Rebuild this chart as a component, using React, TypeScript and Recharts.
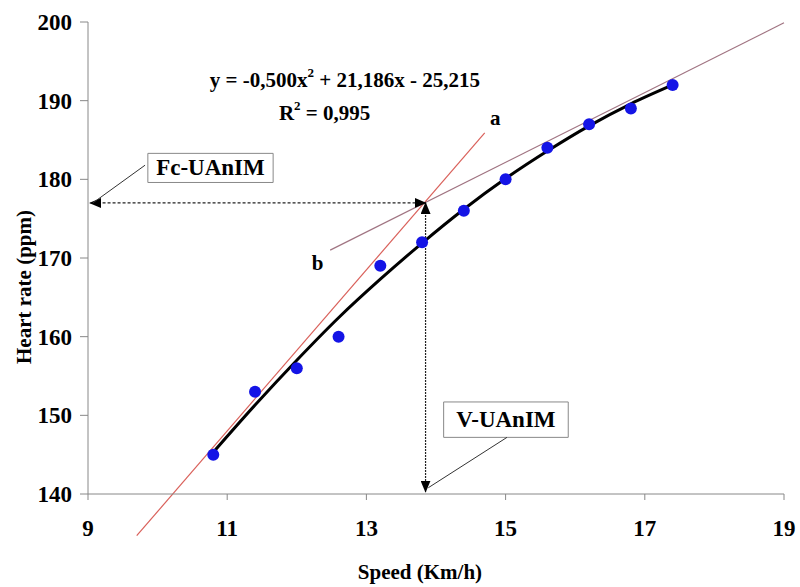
import React from 'react';
import {
  ComposedChart, XAxis, YAxis, Line, Scatter, ReferenceLine, ReferenceDot, ReferenceArea, Label,
} from 'recharts';

// measured points (speed km/h, heart rate ppm)
const speed = [10.8, 11.4, 12.0, 12.6, 13.2, 13.8, 14.4, 15.0, 15.6, 16.2, 16.8, 17.4];
const heartRate = [145, 153, 156, 160, 169, 172, 176, 180, 184, 187, 189, 192];

// polynomial trend line
const fitSpeed = [10.8, 11.4, 12.0, 12.6, 13.2, 13.8, 14.4, 15.0, 15.6, 16.2, 16.8, 17.4];
const fitHeartRate = [145.3, 151.3, 157.0, 162.4, 167.3, 171.9, 176.2, 180.1, 183.6, 186.8, 189.6, 192.0];

// tangent lines a and b
const lineA = [{ x: 9.7, y: 134.7 }, { x: 14.7, y: 185.9 }];
const lineB = [{ x: 12.48, y: 171.0 }, { x: 19.0, y: 199.9 }];

// threshold (intersection of a and b)
const threshold = { x: 13.85, y: 177 };

const xTicks = [9, 11, 13, 15, 17, 19];
const yTicks = [140, 150, 160, 170, 180, 190, 200];

const points = speed.map((x, i) => ({ x, y: heartRate[i] }));
const fit = fitSpeed.map((x, i) => ({ x, y: fitHeartRate[i] }));

const FONT = '"Liberation Serif", "Times New Roman", serif';
const serif = { fontFamily: FONT, fontWeight: 'bold' as const };

const arrowLine = (id: string, dash?: string) => (props: any) => (
  <g>
    <defs>
      <marker id={id} markerUnits="userSpaceOnUse" markerWidth={12} markerHeight={10}
        refX={11} refY={5} orient="auto-start-reverse">
        <path d="M0,0 L12,5 L0,10 z" fill="#000" />
      </marker>
    </defs>
    <line x1={props.x1} y1={props.y1} x2={props.x2} y2={props.y2} stroke="#222" strokeWidth={1.2}
      strokeDasharray={dash} markerStart={`url(#${id})`} markerEnd={`url(#${id})`} />
  </g>
);

const textAt = (txt: React.ReactNode, size = 21) => (props: any) => (
  <text x={props.cx} y={props.cy} textAnchor="middle" dominantBaseline="central"
    style={{ ...serif, fontSize: size }} fill="#000">{txt}</text>
);

const dot = (props: any) => <circle cx={props.cx} cy={props.cy} r={6} fill="#1414e6" />;

const boxLabel = (txt: string) => (props: any) => {
  const vb = props.viewBox;
  return (
    <text x={vb.x + vb.width / 2} y={vb.y + vb.height / 2} textAnchor="middle" dominantBaseline="central"
      style={{ ...serif, fontSize: 23 }} fill="#000">{txt}</text>
  );
};

const tickStyle = { fill: '#000', fontSize: 23, style: { ...serif, fontSize: 23 } };

export default function App() {
  return (
    <div style={{ fontFamily: FONT }}>
      <style>{'body{margin:0;background:#fff} .recharts-text{font-family:"Liberation Serif",serif;font-weight:bold}'}</style>
      <ComposedChart width={800} height={587} margin={{ top: 22, right: 16, bottom: 8, left: 0 }}>
        <XAxis type="number" dataKey="x" domain={[9, 19]} ticks={xTicks} allowDataOverflow
          height={85} tickSize={6} tickMargin={20} tick={tickStyle}
          stroke="#888" tickLine={{ stroke: '#888' }}>
          <Label content={() => (
            <text x={420} y={572} textAnchor="middle" dominantBaseline="central"
              style={{ ...serif, fontSize: 21 }} fill="#000">Speed (Km/h)</text>
          )} />
        </XAxis>
        <YAxis type="number" dataKey="y" domain={[140, 200]} ticks={yTicks} allowDataOverflow
          width={88} tickSize={8} tickMargin={8} tick={tickStyle}
          stroke="#888" tickLine={{ stroke: '#888' }}>
          <Label content={() => (
            <text x={24} y={287} transform="rotate(-90 24 287)" textAnchor="middle" dominantBaseline="central"
              style={{ ...serif, fontSize: 21 }} fill="#000">Heart rate (ppm)</text>
          )} />
        </YAxis>

        <ReferenceLine segment={lineA} stroke="#d9605a" strokeWidth={1.2} ifOverflow="visible" />
        <ReferenceLine segment={lineB} stroke="#a07482" strokeWidth={1.2} ifOverflow="visible" />

        <Line data={fit} dataKey="y" type="monotone" stroke="#000" strokeWidth={3} dot={false}
          isAnimationActive={false} />
        <Scatter data={points} dataKey="y" shape={dot} isAnimationActive={false} />

        <ReferenceLine segment={[{ x: threshold.x, y: threshold.y }, { x: 9.03, y: threshold.y }]}
          ifOverflow="visible" shape={arrowLine('arrH', '3 2')} />
        <ReferenceLine segment={[{ x: threshold.x, y: threshold.y }, { x: threshold.x, y: 140.3 }]}
          ifOverflow="visible" shape={arrowLine('arrV', '2 1')} />

        <ReferenceLine segment={[{ x: 9.82, y: 181.8 }, { x: 9.07, y: 177.0 }]} stroke="#333" strokeWidth={1} ifOverflow="visible" />
        <ReferenceLine segment={[{ x: 15.02, y: 147.2 }, { x: 13.89, y: 140.8 }]} stroke="#333" strokeWidth={1} ifOverflow="visible" />

        <ReferenceArea x1={9.86} x2={11.66} y1={179.6} y2={183.3} fill="#fff" fillOpacity={1}
          stroke="#888" strokeWidth={1} ifOverflow="visible" label={boxLabel('Fc-UAnIM')} />
        <ReferenceArea x1={14.11} x2={15.9} y1={147.2} y2={151.7} fill="#fff" fillOpacity={1}
          stroke="#888" strokeWidth={1} ifOverflow="visible" label={boxLabel('V-UAnIM')} />

        <ReferenceDot x={12.69} y={192.6} r={0} ifOverflow="visible"
          shape={textAt(<>y = -0,500x<tspan dy={-8} fontSize={13}>2</tspan><tspan dy={8}> + 21,186x - 25,215</tspan></>)} />
        <ReferenceDot x={12.4} y={188.4} r={0} ifOverflow="visible"
          shape={textAt(<>R<tspan dy={-8} fontSize={13}>2</tspan><tspan dy={8}> = 0,995</tspan></>)} />
        <ReferenceDot x={14.85} y={187.8} r={0} ifOverflow="visible" shape={textAt('a')} />
        <ReferenceDot x={12.3} y={169.4} r={0} ifOverflow="visible" shape={textAt('b')} />
      </ComposedChart>
    </div>
  );
}
